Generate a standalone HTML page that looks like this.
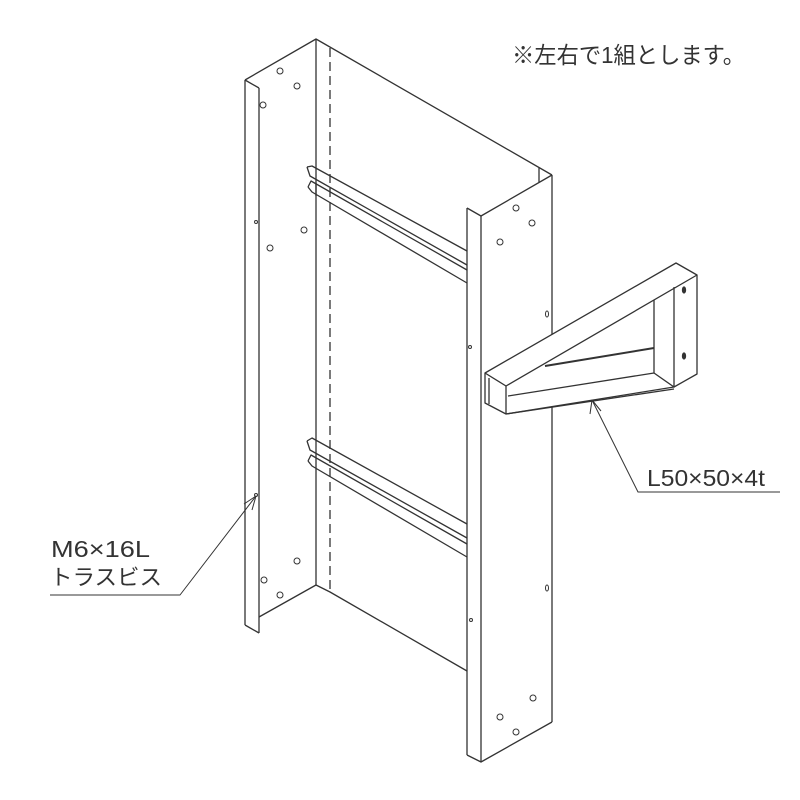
<!DOCTYPE html>
<html><head><meta charset="utf-8"><style>
html,body{margin:0;padding:0;background:#fff;}
svg{display:block;}
text{font-family:"Liberation Sans","Noto Sans CJK JP",sans-serif;fill:#333;}
</style></head><body>
<svg width="800" height="800" viewBox="0 0 800 800" xmlns="http://www.w3.org/2000/svg">
<g fill="none" stroke="#333" stroke-width="1.3" stroke-linejoin="round">
<!-- left post -->
<line x1="245" y1="80" x2="245" y2="625"/>
<line x1="259" y1="88" x2="259" y2="633"/>
<polyline points="245,80 259,88"/>
<polyline points="245,80 316,39 552,175"/>
<polyline points="245,625 259,633"/>
<polyline points="259,617 316,585"/>
<line x1="316" y1="39" x2="316" y2="585"/>
<line x1="330" y1="48" x2="330" y2="592" stroke-dasharray="9,5"/>
<polyline points="316,585 330,592 467,671"/>
<!-- right post -->
<line x1="539" y1="168" x2="539" y2="182"/>
<polyline points="467,208 481,216 552,175"/>
<line x1="467" y1="208" x2="467" y2="755"/>
<line x1="481" y1="216" x2="481" y2="762"/>
<line x1="552" y1="175" x2="552" y2="722"/>
<polyline points="467,755 481,762 552,722"/>
<!-- upper rail -->
<polyline points="307,167 312,166 467,251"/>
<polyline points="307,167 310,176 467,265"/>
<polyline points="308,187 311,181 467,270"/>
<polyline points="308,187 312,192 467,283"/>
<line x1="316" y1="183" x2="316" y2="196"/>
<!-- lower rail -->
<polyline points="307,441 312,438 467,524"/>
<polyline points="307,441 310,450 467,538"/>
<polyline points="308,461 311,455 467,544"/>
<polyline points="308,461 312,466 467,557"/>
<!-- bracket -->
<polygon points="485,373 676,263 697,275 697,374 674,387 506,414 485,403" fill="#fff"/>
<polyline points="485,373 506,386 697,275"/>
<line x1="506" y1="386" x2="506" y2="414"/>
<line x1="654" y1="300" x2="654" y2="373"/>
<polyline points="508,396 654,373 674,387 674,287"/>
<line x1="545" y1="366" x2="654" y2="348" stroke-width="2"/>
<line x1="506" y1="414" x2="674" y2="389"/>
<line x1="489" y1="378" x2="489" y2="404"/>
<ellipse cx="684" cy="290" rx="1.5" ry="3" fill="#333"/>
<ellipse cx="684" cy="356" rx="1.5" ry="3" fill="#333"/>
<!-- holes -->
<g stroke-width="1">
<circle cx="280" cy="71" r="3"/><circle cx="297" cy="86" r="3"/><circle cx="263" cy="105" r="3"/>
<circle cx="304" cy="230" r="3"/><circle cx="270" cy="248" r="3"/><circle cx="256" cy="222" r="1.5"/>
<circle cx="297" cy="561" r="3"/><circle cx="264" cy="580" r="3"/><circle cx="280" cy="595" r="3"/>
<circle cx="516" cy="208" r="3"/><circle cx="532" cy="223" r="3"/><circle cx="500" cy="242" r="3"/>
<ellipse cx="547" cy="314" rx="1.5" ry="3"/><circle cx="470" cy="347" r="1.5"/>
<ellipse cx="547" cy="588" rx="1.5" ry="3"/><circle cx="471" cy="620" r="1.5"/>
<circle cx="533" cy="698" r="3"/><circle cx="500" cy="717" r="3"/><circle cx="516" cy="732" r="3"/>
<circle cx="256" cy="495" r="1.5"/>
</g>
<!-- leaders -->
<g stroke-width="1">
<polyline points="50,595 180,595 256,496"/>
<polyline points="244,504 256,496 252,510"/>
<polyline points="592,400 638,492 780,492"/>
<polyline points="590,414 592,400 601,411"/>
</g>
</g>
<text x="512" y="63" font-size="23" textLength="233" lengthAdjust="spacingAndGlyphs">※左右で1組とします。</text>
<text x="51" y="557" font-size="23" textLength="99" lengthAdjust="spacingAndGlyphs">M6×16L</text>
<text x="50" y="585" font-size="22" textLength="112" lengthAdjust="spacingAndGlyphs">トラスビス</text>
<text x="647" y="486" font-size="23" textLength="118" lengthAdjust="spacingAndGlyphs">L50×50×4t</text>
</svg>
</body></html>
